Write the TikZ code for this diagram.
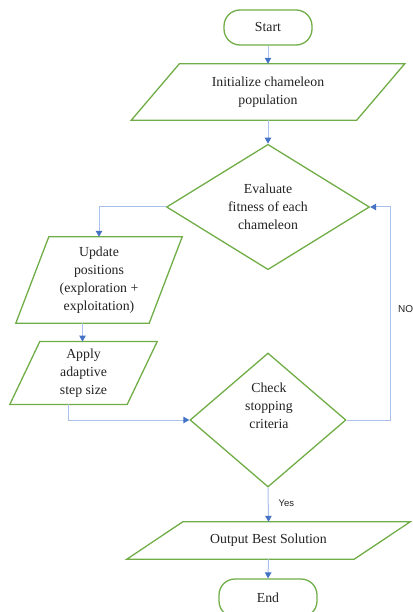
\documentclass[tikz,border=0pt]{standalone}
\usepackage{fontspec}
\setmainfont{Liberation Serif}
\newfontfamily\lblfont{Liberation Sans}
\usetikzlibrary{shapes.geometric,arrows.meta,calc}
\definecolor{shgreen}{HTML}{70AD47}
\definecolor{lnblue}{HTML}{A9C1EA}
\definecolor{tipblue}{HTML}{4472C4}
\definecolor{txtc}{HTML}{222222}
\begin{document}
\begin{tikzpicture}[x=1pt,y=-1pt,
  mainfont/.style={font=\fontsize{13.8}{18}\selectfont},
  box/.style={draw=shgreen,line width=1.3pt,text=txtc,mainfont,align=center,inner sep=0pt},
  term/.style={box,rectangle,rounded corners=16pt},
  dec/.style={box,diamond},
  iobox/.style={rectangle,inner sep=0pt,text=txtc,mainfont,align=center},
  io/.style={draw=shgreen,line width=1.3pt,line join=miter},
  conn/.style={draw=lnblue,line width=1pt,-{Triangle[length=6pt,width=6.5pt,color=tipblue]}},
  lbl/.style={font=\lblfont\fontsize{9.5}{11}\selectfont,text=txtc,inner sep=0pt}
]
\useasboundingbox (0,0) rectangle (412,612);

% nodes
\node[term,minimum width=88pt,minimum height=35pt] (start) at (268,27.5) {Start};

\node[iobox,minimum width=273pt,minimum height=56pt] (init) at (268,92) {Initialize chameleon\\population};
\draw[io] (init.south west) -- ($(init.north west)+(48,0)$) -- (init.north east) -- ($(init.south east)-(48,0)$) -- cycle;

\node[dec,minimum width=203pt,minimum height=122pt] (eval) at (268,207) {Evaluate\\fitness of each\\chameleon};

\node[iobox,minimum width=166pt,minimum height=86pt] (upd) at (99,280) {Update\\positions\\(exploration +\\exploitation)};
\draw[io] (upd.south west) -- ($(upd.north west)+(33,0)$) -- (upd.north east) -- ($(upd.south east)-(33,0)$) -- cycle;

\node[iobox,minimum width=147pt,minimum height=62.5pt] (app) at (83.5,373) {Apply\\adaptive\\step size};
\draw[io] (app.south west) -- ($(app.north west)+(30,0)$) -- (app.north east) -- ($(app.south east)-(30,0)$) -- cycle;

\node[dec,minimum width=156pt,minimum height=134pt] (check) at (268,420) {};
\node[text=txtc,mainfont,align=center,inner sep=0pt] (checktxt) at (269,406) {Check\\stopping\\criteria};

\node[iobox,minimum width=283pt,minimum height=37pt] (out) at (268.5,540.5) {Output Best Solution};
\draw[io] (out.south west) -- ($(out.north west)+(56,0)$) -- (out.north east) -- ($(out.south east)-(56,0)$) -- cycle;

\node[term,minimum width=98pt,minimum height=38pt] (end) at (268,598) {End};

% connectors
\draw[conn] (start.south) -- (init.north);
\draw[conn] (init.south) -- (eval.north);
\draw[conn] (eval.west) -| (upd.north);
\coordinate (updb) at ($(upd.south)-(16.5,0)$);
\draw[conn] (updb) -- (updb |- app.north);
\coordinate (appb) at ($(app.south)-(15,0)$);
\draw[conn] (appb) |- (check.west);
\draw[conn] (check.south) -- node[lbl,anchor=west,pos=0.45,xshift=10pt] (yes) {Yes} (out.north);
\draw[conn] (check.east) -- ++(44,0) |- (eval.east);
\node[lbl,font=\lblfont\fontsize{10}{12}\selectfont,anchor=west] (no) at (398,309) {NO};
\draw[conn] (out.south) -- (end.north);
\end{tikzpicture}
\end{document}
